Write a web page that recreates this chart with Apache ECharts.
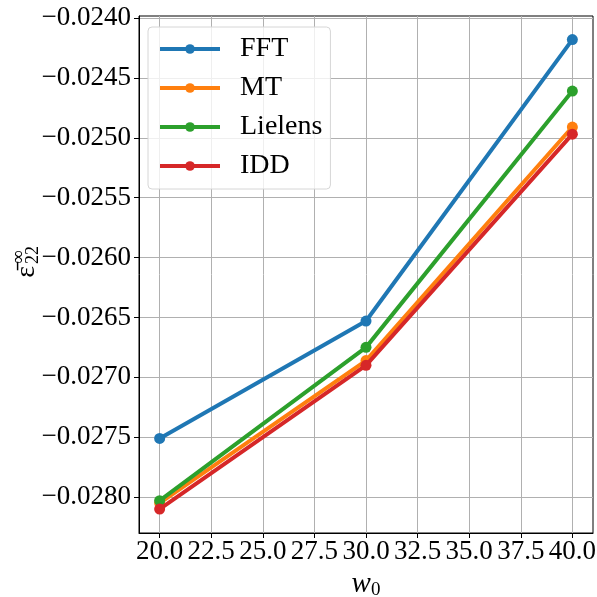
<!DOCTYPE html>
<html>
<head>
<meta charset="utf-8">
<script src="https://cdn.jsdelivr.net/npm/echarts@6/dist/echarts.min.js"></script>
<style>
  html, body { margin: 0; padding: 0; background: #fff; }
  #chart { width: 597px; height: 597px; }
</style>
</head>
<body>
<div id="chart"></div>
<script>
// Mean strain component vs. w0 for four homogenization schemes
const w0 = [20, 30, 40];
const seriesNames = ['FFT', 'MT', 'Lielens', 'IDD'];
const fftValues = [-0.02751, -0.02653, -0.02418];
const mtValues = [-0.02805, -0.02686, -0.02491];
const lielensValues = [-0.02803, -0.02675, -0.02461];
const iddValues = [-0.02810, -0.02690, -0.02497];
const colors = ['#1f77b4', '#ff7f0e', '#2ca02c', '#d62728'];

const xTicks = [20, 22.5, 25, 27.5, 30, 32.5, 35, 37.5, 40];
const yTicks = [-0.0240, -0.0245, -0.0250, -0.0255, -0.0260, -0.0265, -0.0270, -0.0275, -0.0280];

const FONT = '"Liberation Serif", "DejaVu Serif", serif';

const allValues = [fftValues, mtValues, lielensValues, iddValues];

const chart = echarts.init(document.getElementById('chart'), null, { renderer: 'canvas' });

const option = {
  animation: false,
  backgroundColor: '#fff',
  grid: {
    left: 139, right: 4, top: 16, bottom: 64,
    containLabel: false,
    outerBoundsMode: 'none',
    show: true,
    borderColor: '#000',
    borderWidth: 1,
    backgroundColor: 'transparent'
  },
  legend: {
    orient: 'vertical',
    left: 148,
    top: 27,
    padding: [8, 8, 9, 10],
    itemWidth: 60,
    itemHeight: 12,
    itemGap: 11,
    backgroundColor: 'rgba(255,255,255,0.8)',
    borderColor: '#d6d6d6',
    borderWidth: 1,
    borderRadius: 4,
    data: seriesNames,
    lineStyle: { width: 4 },
    textStyle: {
      fontFamily: FONT,
      fontSize: 28,
      color: '#000',
      padding: [0, 0, 0, 15]
    }
  },
  xAxis: {
    type: 'value',
    min: 19,
    max: 41,
    axisLine: { show: true, onZero: false, lineStyle: { color: '#000', width: 1 } },
    axisTick: { show: true, length: 5, customValues: xTicks, lineStyle: { color: '#000' } },
    axisLabel: {
      customValues: xTicks,
      formatter: v => v.toFixed(1),
      fontFamily: FONT,
      fontSize: 27,
      color: '#000',
      margin: 5
    },
    splitLine: { show: true, lineStyle: { color: '#b0b0b0', width: 1 } },
    name: '{w|w}{s|0}',
    nameLocation: 'middle',
    nameGap: 32,
    nameTextStyle: {
      rich: {
        w: { fontFamily: FONT, fontStyle: 'italic', fontSize: 29, color: '#000' },
        s: { fontFamily: FONT, fontSize: 19, color: '#000', padding: [12, 0, 0, 0] }
      }
    }
  },
  yAxis: {
    type: 'value',
    min: -0.02830,
    max: -0.023983,
    axisLine: { show: true, onZero: false, lineStyle: { color: '#000', width: 1 } },
    axisTick: { show: true, length: 5, customValues: yTicks, lineStyle: { color: '#000' } },
    axisLabel: {
      customValues: yTicks,
      formatter: v => '\u2212' + Math.abs(v).toFixed(4),
      fontFamily: FONT,
      fontSize: 27,
      color: '#000',
      margin: 8
    },
    splitLine: { show: true, lineStyle: { color: '#b0b0b0', width: 1 } }
  },
  graphic: [
    {
      type: 'group',
      x: 27,
      y: 264,
      rotation: Math.PI / 2,
      children: [
        {
          type: 'text',
          x: -2,
          y: 0,
          style: { text: '\u03b5\u0304', font: '28px ' + FONT, fill: '#000', textAlign: 'right', textVerticalAlign: 'middle' }
        },
        {
          type: 'text',
          x: 0,
          y: -8,
          style: { text: '\u221e', font: '19px ' + FONT, fill: '#000', textAlign: 'left', textVerticalAlign: 'middle' }
        },
        {
          type: 'text',
          x: 0,
          y: 6,
          style: { text: '22', font: '18px ' + FONT, fill: '#000', textAlign: 'left', textVerticalAlign: 'middle' }
        }
      ]
    }
  ],
  series: seriesNames.map((name, i) => ({
    name: name,
    type: 'line',
    data: w0.map((x, j) => [x, allValues[i][j]]),
    symbol: 'circle',
    symbolSize: 11,
    showSymbol: true,
    lineStyle: { width: 4, color: colors[i] },
    itemStyle: { color: colors[i] },
    z: 2 + i
  }))
};

chart.setOption(option);
</script>
</body>
</html>
